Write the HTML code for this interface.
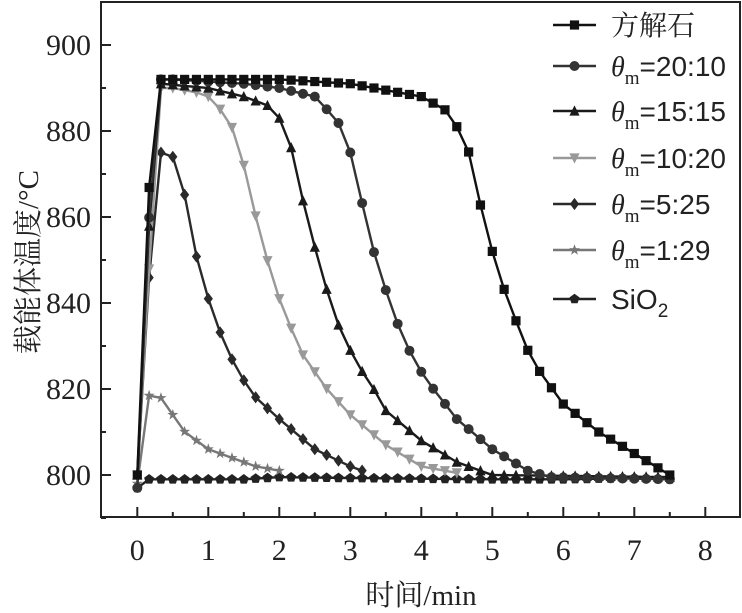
<!DOCTYPE html><html><head><meta charset="utf-8"><style>body{margin:0;background:#fff}svg{display:block}</style></head><body>
<svg id="s" width="742" height="613" xmlns="http://www.w3.org/2000/svg"></svg>
<script>
const S=document.getElementById('s');
const SER='font-family="Liberation Serif, Noto Serif CJK SC, serif"';
const X=t=>137.3+71*t, Y=v=>475-4.3*(v-800);
let h='';
h+=`<rect x="101" y="2" width="639" height="515" fill="none" stroke="#222" stroke-width="2"/>`;
for(let i=0;i<=16;i++){let t=i/2,x=X(t),L=i%2?5:10;h+=`<line x1="${x}" y1="517" x2="${x}" y2="${517-L}" stroke="#222" stroke-width="2"/>`;if(i%2==0)h+=`<text ${SER} x="${x}" y="560" font-size="30" text-anchor="middle" fill="#222">${t}</text>`;}
for(let v=790;v<=910;v+=10){let y=Y(v),L=(v%20==0)?10:5;h+=`<line x1="101" y1="${y}" x2="${101+L}" y2="${y}" stroke="#222" stroke-width="2"/>`;if(v%20==0&&v>=800&&v<=900)h+=`<text ${SER} x="91" y="${y+10}" font-size="30" text-anchor="end" fill="#222">${v}</text>`;}
h+=`<text ${SER} x="421" y="605" font-size="29" text-anchor="middle" fill="#222">时间/min</text>`;
h+=`<text ${SER} transform="translate(38,262) rotate(-90)" font-size="29" text-anchor="middle" fill="#222">载能体温度/°C</text>`;
function interp(k,t){for(let i=0;i<k.length-1;i++){if(t<=k[i+1][0]+1e-9){let a=k[i],b=k[i+1],f=(t-a[0])/(b[0]-a[0]);return a[1]+f*(b[1]-a[1]);}}return k[k.length-1][1];}
function mk(type,x,y,c){const r=4.6;
 if(type=='sq')return `<rect x="${x-r}" y="${y-r}" width="${2*r}" height="${2*r}" fill="${c}"/>`;
 if(type=='ci')return `<circle cx="${x}" cy="${y}" r="${r+0.4}" fill="${c}"/>`;
 if(type=='tu')return `<polygon points="${x},${y-r-1} ${x-r-0.5},${y+r} ${x+r+0.5},${y+r}" fill="${c}"/>`;
 if(type=='td')return `<polygon points="${x},${y+r+1} ${x-r-0.5},${y-r} ${x+r+0.5},${y-r}" fill="${c}"/>`;
 if(type=='di')return `<polygon points="${x},${y-r-1.5} ${x+r},${y} ${x},${y+r+1.5} ${x-r},${y}" fill="${c}"/>`;
 if(type=='st'){let p=[];for(let i=0;i<10;i++){let a=-Math.PI/2+i*Math.PI/5,rr=i%2?2.3:5.8;p.push((x+rr*Math.cos(a)).toFixed(1)+','+(y+rr*Math.sin(a)).toFixed(1));}return `<polygon points="${p.join(' ')}" fill="${c}"/>`;}
 if(type=='pe'){let p=[];for(let i=0;i<5;i++){let a=-Math.PI/2+i*2*Math.PI/5;p.push((x+5.3*Math.cos(a)).toFixed(1)+','+(y+5.3*Math.sin(a)).toFixed(1));}return `<polygon points="${p.join(' ')}" fill="${c}"/>`;}
}
const series=[
 ['pe','#222',[[0,797],[0.167,799],[1.5,799],[2,799.5],[3,799.3],[5,799],[6,799],[7,799.3],[7.5,799]],7.5],
 ['st','#777',[[0,798],[0.167,818.5],[0.33,818],[0.5,814],[0.67,810],[1,806],[1.33,804],[1.67,802],[2,801]],2],
 ['di','#2a2a2a',[[0,800],[0.167,846],[0.33,875],[0.5,874],[0.67,865],[0.83,851],[1,841],[1.17,833],[1.33,827],[1.5,822],[1.67,818],[2,813],[2.5,806],[3,802],[3.17,801]],3.17],
 ['td','#999',[[0,800],[0.167,848],[0.33,890],[0.5,890],[0.83,889],[1,888],[1.17,885],[1.33,881],[1.5,872],[1.67,860],[1.83,850],[2,841],[2.17,834],[2.33,828],[2.5,824],[2.67,820],[3,814],[3.5,807],[4,802],[4.33,801],[4.5,800.5]],4.5],
 ['tu','#1a1a1a',[[0,800],[0.167,858],[0.33,891],[1,890],[1.5,888],[1.83,886],[2,883],[2.17,876],[2.33,864],[2.5,853],[2.67,843],[2.83,835],[3,829],[3.17,824],[3.33,820],[3.5,815],[4,808],[4.5,803],[4.83,801],[5,800],[7.5,799.5]],7.5],
 ['ci','#333',[[0,797],[0.167,860],[0.33,892],[0.5,892],[1.5,891],[2,890],[2.5,888],[2.67,885],[2.83,882],[3,875],[3.17,863],[3.33,852],[3.5,843],[3.67,835],[3.83,829],[4,824],[4.17,820],[4.5,813],[5,806],[5.5,801],[5.83,799.5],[7.5,799]],7.5],
 ['sq','#111',[[0,800],[0.167,867],[0.33,892],[2,892],[3,891],[4,888],[4.33,885],[4.5,881],[4.67,875],[4.83,863],[5,852],[5.17,843],[5.33,836],[5.5,829],[5.67,824],[6,816.5],[6.5,810],[7,805],[7.5,800]],7.5]
];
for(const [ty,c,k,end] of series){let pts=[],m='';for(let i=0;;i++){let t=i/6;if(t>end+1e-6)break;let x=X(t),y=Y(interp(k,t));pts.push(x.toFixed(1)+','+y.toFixed(1));m+=mk(ty,x,y,c);}
 h+=`<polyline points="${pts.join(' ')}" fill="none" stroke="${c}" stroke-width="2.4"/>`+m;}
const leg=[['sq','#111','方解石',25],['ci','#333','20:10',66],['tu','#1a1a1a','15:15',111],['td','#999','10:20',158],['di','#2a2a2a','5:25',204],['st','#777','1:29',250],['pe','#222','SiO2',299]];
for(const [ty,c,l,y] of leg){h+=`<line x1="553" y1="${y}" x2="596" y2="${y}" stroke="${c}" stroke-width="2.5"/>`+mk(ty,574.5,y,c);
 let txt=l=='方解石'?`<tspan font-family="Noto Serif CJK SC, serif">方解石</tspan>`:l=='SiO2'?'SiO<tspan font-size="19" dy="8">2</tspan>':`<tspan ${SER} font-style="italic">θ</tspan><tspan ${SER} font-size="19" dy="8">m</tspan><tspan dy="-8">=${l}</tspan>`;
 h+=`<text font-family="Liberation Sans, sans-serif" x="611" y="${y+10}" font-size="28" fill="#222">${txt}</text>`;}
S.innerHTML=h;
</script></body></html>
